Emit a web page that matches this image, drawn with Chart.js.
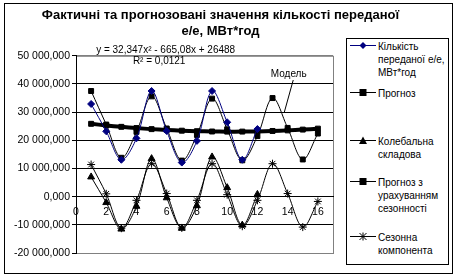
<!DOCTYPE html>
<html>
<head>
<meta charset="utf-8">
<script src="https://cdn.jsdelivr.net/npm/chart.js@4/dist/chart.umd.min.js"></script>
<style>
  body { margin: 0; background: #fff; }
  #wrap { position: relative; width: 455px; height: 277px; font-family: "Liberation Sans", Arial, sans-serif; }
  #frame { position: absolute; left: 4px; top: 3px; width: 447px; height: 269px; border: 1px solid #000; }
  #legend { position: absolute; left: 346px; top: 38px; width: 101px; height: 225px; border: 1px solid #000; background: #fff; }
  .item { position: absolute; left: 0; font-size: 10px; line-height: 13px; color: #000; }
  .item svg { position: absolute; left: 3px; top: 1px; }
  .item span { position: absolute; left: 31px; white-space: nowrap; }
</style>
</head>
<body>
<div id="wrap">
  <div id="frame"></div>
  <canvas id="chart" width="455" height="277"></canvas>
  <div id="legend"></div>
</div>
<script>
// x-позиції (періоди)
const periods = [1, 2, 3, 4, 5, 6, 7, 8, 9, 10, 11, 12, 13, 14, 15, 16];
const xTicks = [0, 2, 4, 6, 8, 10, 12, 14, 16];
const yTicks = [-20000, -10000, 0, 10000, 20000, 30000, 40000, 50000];

// Фактичні значення (12 періодів)
const actual = [32900, 23200, 13100, 20700, 37500, 23300, 12100, 19800, 37500, 26400, 13100, 24000];
// Прогноз (тренд)
const trend = [25855, 25287, 24784, 24346, 23972, 23664, 23420, 23241, 23126, 23077, 23093, 23173, 23318, 23528, 23803, 24142];
// Колебальна складова
const oscill = [7000, -2100, -11500, -3400, 13500, -400, -11200, -3200, 14100, 3200, -10100, 800];
// Прогноз з урахуванням сезонності
const seasonFc = [37500, 25600, 13800, 23000, 35600, 24200, 12800, 21900, 34800, 23900, 12900, 21500, 35000, 24400, 13200, 22400];
// Сезонна компонента
const seasonal = [11400, 1000, -11200, -1300, 11700, 1100, -11100, -1300, 11700, 700, -10500, -1300, 11700, 1100, -10800, -1700];

const labels = [
  'Кількість<br>переданої е/е,<br>МВт*год',
  'Прогноз',
  'Колебальна<br>складова',
  'Прогноз з<br>урахуванням<br>сезонності',
  'Сезонна<br>компонента'
];
const legendTops = [1, 48, 96, 137, 192];

function pts(vals) {
  return vals.map((v, i) => ({ x: periods[i], y: v }));
}

function fmtY(v) {
  const s = Math.abs(v).toString().replace(/\B(?=(\d{3})+(?!\d))/g, ' ');
  return (v < 0 ? '-' : '') + s + ',000';
}

function ds(label, vals, color, style, width, radius) {
  return {
    label: label,
    data: pts(vals),
    borderColor: color,
    backgroundColor: color,
    borderWidth: width,
    pointStyle: style,
    pointRadius: radius,
    pointBorderWidth: 1,
    tension: 0.35,
    fill: false
  };
}

const FONT = "'Liberation Sans', Arial, sans-serif";

// підписи тренду та "Модель"
const annotations = {
  id: 'annotations',
  afterDatasetsDraw(chart) {
    const { ctx, scales: { x, y } } = chart;
    ctx.save();
    ctx.fillStyle = '#000';
    ctx.font = '10px ' + FONT;
    ctx.textAlign = 'center';
    ctx.textBaseline = 'middle';
    ctx.fillText('y = 32,347x² - 665,08x + 26488', x.getPixelForValue(5.93), y.getPixelForValue(52100));
    ctx.fillText('R² = 0,0121', x.getPixelForValue(5.5), y.getPixelForValue(47900));
    ctx.fillText('Модель', x.getPixelForValue(14.07), y.getPixelForValue(43600));
    ctx.strokeStyle = '#000';
    ctx.lineWidth = 1;
    ctx.beginPath();
    ctx.moveTo(x.getPixelForValue(14.37), y.getPixelForValue(41400));
    ctx.lineTo(x.getPixelForValue(13.78), y.getPixelForValue(30000));
    ctx.stroke();
    ctx.restore();
  }
};

const plotFrame = {
  id: 'plotFrame',
  beforeDraw(chart) {
    const a = chart.chartArea, ctx = chart.ctx;
    ctx.save();
    ctx.strokeStyle = '#808080';
    ctx.lineWidth = 1;
    ctx.strokeRect(a.left + 0.5, a.top + 0.5, a.right - a.left, a.bottom - a.top);
    ctx.restore();
  }
};

new Chart(document.getElementById('chart'), {
  type: 'scatter',
  data: {
    datasets: [
      ds('Кількість переданої е/е, МВт*год', actual, '#000080', 'rectRot', 1, 3.5),
      ds('Прогноз', trend, '#000000', 'rect', 4, 3.5),
      ds('Колебальна складова', oscill, '#000000', 'triangle', 1, 4),
      ds('Прогноз з урахуванням сезонності', seasonFc, '#000000', 'rect', 1, 3.5),
      ds('Сезонна компонента', seasonal, '#000000', 'star', 1, 4)
    ]
  },
  options: {
    responsive: false,
    animation: false,
    showLine: true,
    layout: { padding: { left: 0, right: 14, top: 0, bottom: 24 } },
    plugins: {
      legend: { display: false },
      tooltip: { enabled: false },
      title: {
        display: true,
        text: ['Фактичні та прогнозовані значення кількості переданої', 'е/е, МВт*год'],
        color: '#000',
        font: { family: FONT, size: 13, weight: 'bold', lineHeight: 1.3 },
        padding: { top: 6.5, bottom: 15.5 }
      }
    },
    scales: {
      x: {
        type: 'linear',
        position: { y: 0 },
        min: 0,
        max: 17,
        afterBuildTicks(scale) { scale.ticks = xTicks.map(v => ({ value: v })); },
        grid: { display: false, drawTicks: false },
        border: { display: true, color: '#000', width: 1 },
        ticks: { color: '#000', padding: 9, font: { family: FONT, size: 10.5 }, maxRotation: 0 }
      },
      y: {
        type: 'linear',
        position: 'left',
        min: -20000,
        max: 50000,
        afterBuildTicks(scale) { scale.ticks = yTicks.map(v => ({ value: v })); },
        afterFit(scale) { scale.width = 76; },
        grid: {
          color: (c) => (c.tick && (c.tick.value === 50000 || c.tick.value === -20000)) ? '#808080' : '#000',
          tickColor: '#000',
          tickLength: 4,
          lineWidth: 1
        },
        border: { display: true, color: '#000', width: 1 },
        ticks: { color: '#000', padding: 2, font: { family: FONT, size: 10.5 }, callback: (v) => fmtY(v) }
      },
      spacer: {
        type: 'linear',
        position: 'right',
        display: true,
        afterFit(scale) { scale.width = 108; },
        grid: { display: false },
        border: { display: false },
        ticks: { display: false }
      }
    }
  },
  plugins: [plotFrame, annotations]
});

// легенда
const icons = [
  '<path d="M9 1 L12.5 4.5 L9 8 L5.5 4.5 Z" fill="#000080"/>',
  '<rect x="5.5" y="1" width="7" height="7" fill="#000"/>',
  '<path d="M9 0.5 L13 8 L5 8 Z" fill="#000"/>',
  '<rect x="5.5" y="1" width="7" height="7" fill="#000"/>',
  '<path d="M5.5 1 L12.5 8 M12.5 1 L5.5 8 M9 0.5 L9 8.5" stroke="#000" stroke-width="1" fill="none"/>'
];
const lineColors = ['#000080', '#000', '#000', '#000', '#000'];
const leg = document.getElementById('legend');
labels.forEach((t, i) => {
  const d = document.createElement('div');
  d.className = 'item';
  d.style.top = legendTops[i] + 'px';
  d.innerHTML = '<svg width="26" height="10" viewBox="-4 0 26 10"><line x1="-4" y1="4.5" x2="22" y2="4.5" stroke="' + lineColors[i] + '" stroke-width="1"/>' + icons[i] + '</svg><span>' + t + '</span>';
  leg.appendChild(d);
});
</script>
</body>
</html>
